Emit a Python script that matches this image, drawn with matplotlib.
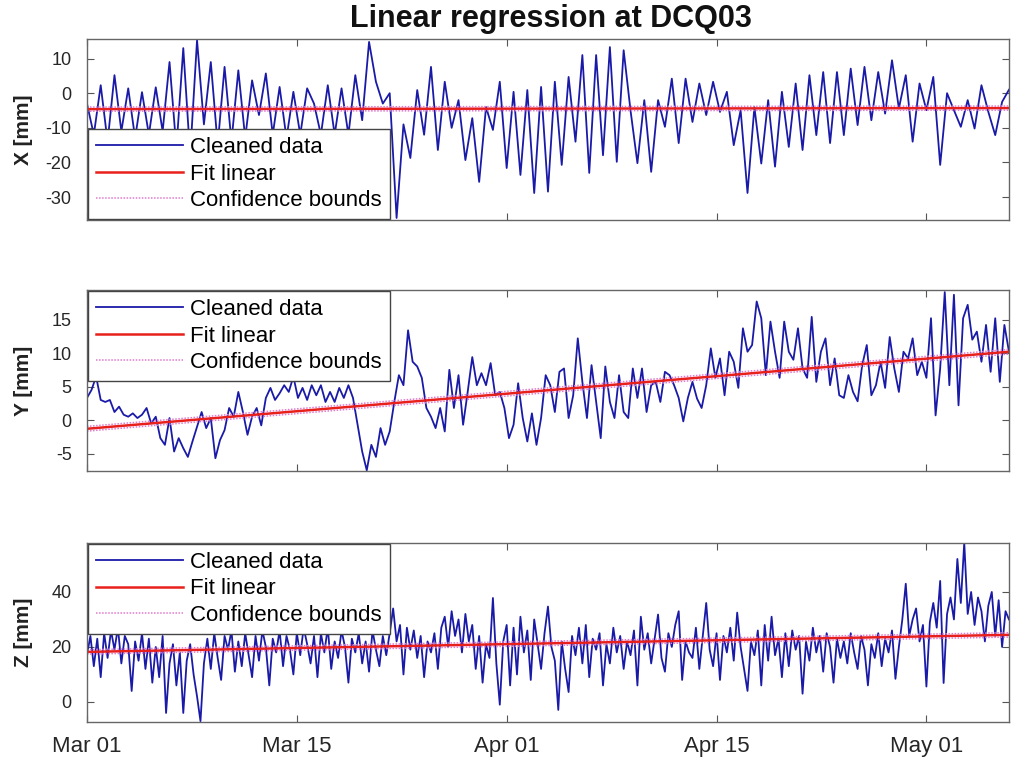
import numpy as np
import matplotlib.pyplot as plt

plt.rcParams['font.family'] = ['Liberation Sans', 'DejaVu Sans']
plt.rcParams['axes.unicode_minus'] = False

# X component [mm], two samples per day from Mar 01
x_vals = [
    -3, -12, 2.3, -14, 5.2, -11, 1.4, -13, 0.3, -12,
    1.7, -11, 9.0, -16, 13, -18, 15.3, -9, 9, -15,
    7.6, -14, 6.6, -13, 3.7, -6.3, 5.7, -12, 1.8, -13,
    0.4, -12, 1.4, -3, -12, 2.3, -12, 1.4, -12, 5.2,
    -7.8, 14.8, 3.3, -3, 0, -36, -9, -18.7, 0.9, -12,
    7.6, -16.4, 3.3, -10, -2, -19.3, -7.2, -25.6, -4, -10.6,
    3.3, -21.6, 0.4, -23.6, 0.9, -28.8, 1.8, -28.4, 3.3, -20.7,
    4.7, -14, 11, -23, 11, -17.9, 13.3, -19.8, 12.4, -5,
    -20.2, -2, -22.7, -2, -9.7, 4.2, -14.4, 4.2, -8.3, 2.8,
    -6.3, 3.3, -5.4, 0.4, -15, -4.9, -28.8, -4, -20.3, -2,
    -21.2, 0.4, -15.5, 2.8, -16.4, 5.2, -12.1, 6.1, -14.4, 6.1,
    -12.1, 7.1, -9.2, 7.6, -7.8, 6.1, -5.9, 9.5, -4.4, 5.2,
    -14, 2.8, -4.9, 4.7, -20.7, 0, -4.9, -9.7, -2, -10.2,
    2.3, -5.4, -12.1, -2.5, 1,
]

# Y component [mm], three samples per day
y_vals = [
    3.3, 4.5, 6.5, 3.0, 2.7, 3.0, 1.2, 2.0, 0.8, 0.5, 1.0, 0.3,
    0.8, 1.8, -0.5, 0.5, -2.7, -3.7, 0.3, -4.7, -2.7, -4.2, -5.5, -3.2,
    -1.0, 1.2, -1.2, 0.3, -5.7, -3.0, -1.5, 1.8, 0.5, 4.2, 1.2, -2.2,
    0.5, 1.8, -0.8, 3.3, 4.8, 3.0, 4.0, 5.2, 4.2, 6.5, 3.3, 4.8,
    3.0, 5.2, 3.7, 5.2, 2.7, 4.2, 2.7, 4.8, 3.3, 5.2, 3.3, -0.7,
    -4.7, -7.5, -3.7, -5.5, -1.2, -3.7,
    -1.7, 2.7, 6.7, 5.2, 13.4, 8.7, 8.0, 6.3, 1.8, 0.5,
    -1.2, 1.8, -1.7, 7.5, 1.8, 6.7, -0.7, 4.2, 9.4, 5.2,
    7.0, 5.2, 8.5, 3.7, 4.2, 1.8, -2.7, -0.7, 5.5, 0.3,
    -3.2, 1.0, -3.7, 0.3, 6.7, 5.2, 1.2, 7.2, 7.7, 0.3,
    3.7, 12.2, 5.7, 0.3, 8.2, 2.7, -2.7, 8.0, 2.7, 0.3,
    6.7, 1.2, 0.3, 7.7, 3.3, 7.7, 1.2, 5.2, 5.7, 2.7,
    7.2, 6.7, 5.2, 3.3, -0.2, 3.3,
    5.7, 3.2, 1.8, 5.2, 10.7, 6.3, 9.2, 3.7, 10.2, 8.7,
    4.8, 13.7, 10.2, 11.2, 17.7, 15.2, 6.7, 14.7, 10.2, 6.3,
    14.7, 10.2, 9.0, 13.7, 7.7, 6.3, 15.4, 5.7, 10.2, 12.2,
    5.2, 9.2, 3.7, 3.3, 6.7, 4.2, 2.8, 8.2, 11.2, 3.7,
    5.2, 8.7, 4.8, 12.4, 7.7, 4.2, 10.2, 9.2, 12.2, 6.7,
    8.7, 6.3, 15.2, 0.7, 7.7, 19.1, 5.2, 18.7, 2.2, 15.2,
    17.2, 12.0, 13.2, 8.7, 14.2, 7.2, 15.2, 5.7, 14.2, 10.2,
]

# Z component [mm], four samples per day
z_vals = [
    17, 24, 13, 23, 9, 25, 16, 26, 19, 27, 14, 24,
    21, 4, 22, 15, 25, 12, 23, 7, 20, 9, 24, -4,
    14, 21, 6, 18, -4, 15, 21, 10, 2, -7, 14, 23,
    12, 25, 16, 8, 24, 19, 26, 11, 22, 13, 25, 17,
    9, 24, 15, 26, 20, 6, 23, 18, 26, 13, 24, 19,
    10, 25, 17, 27, 21, 14, 24, 9, 25, 18, 27, 12,
    22, 16, 26, 20, 7, 23, 18, 25, 14, 22, 11, 26,
    19, 13, 24, 17, 25, 34, 22, 28, 10, 27, 19, 26,
    16, 24, 9, 22, 18, 25, 12, 27, 31, 20, 33, 24,
    30, 18, 32, 22, 28, 12, 24, 7, 21, 16, 37.8, 14,
    -1, 22, 28, 6, 27, 10, 31, 18, 26, 8, 30, 21,
    12, 25, 34.7, 20, 15, -2.9, 22, 12, 3.6, 24, 17, 27,
    14, 28, 9, 23, 19, 25, 6, 21, 14, 27, 18, 24,
    12, 22, 17, 26, 6, 31, 19, 25, 14, 23, 31.8, 16,
    11, 25, 20, 28, 33, 8, 22, 18, 16, 27, 12, 24,
    36, 19, 13, 25, 8, 24, 18, 27, 15, 32.5, 20, 12,
    4, 22, 17, 26, 6, 28, 15, 31, 17, 23, 9, 25,
    13, 26, 19, 24, 3, 22, 15, 27, 18, 24, 11, 25,
    20, 7, 23, 16, 22, 14, 25, 18, 12, 24, 19, 6,
    21, 16, 25, 13, 23, 18, 26, 8.4, 20, 30, 43, 24,
    30, 34, 22, 28, 5.6, 29, 36, 27, 44, 6.9, 32, 38,
    30, 52, 36, 58, 32, 40, 28, 38, 33, 22, 35, 40,
    24, 37, 20, 33, 30,
]

# linear fit: value at Mar 01 [mm], slope [mm/day], half-width of the bounds [mm]
x_fit = [-4.6, 0.0045, 0.6]
y_fit = [-1.3, 0.1716, 0.35]
z_fit = [18.2, 0.0925, 0.8]

tick_labels = ['Mar 01', 'Mar 15', 'Apr 01', 'Apr 15', 'May 01']

panels = [
    ('X [mm]', x_vals, 2, x_fit, (-36.6, 15.6), [-30, -20, -10, 0, 10], 'lower left'),
    ('Y [mm]', y_vals, 3, y_fit, (-7.6, 19.4), [-5, 0, 5, 10, 15], 'upper left'),
    ('Z [mm]', z_vals, 4, z_fit, (-7.3, 57.8), [0, 20, 40], 'upper left'),
]
boxes = [[0.086, 0.7105, 0.912, 0.238],
         [0.086, 0.3803, 0.912, 0.238],
         [0.086, 0.0500, 0.912, 0.2355]]

fig = plt.figure(figsize=(10.11, 7.6), dpi=100)
fig.text(0.545, 1 - 19 / 760, 'Linear regression at DCQ03', ha='center', va='center',
         fontsize=22, fontweight='bold', color='#111111')

for (lab, vals, per_day, fit, ylim, yt, loc), box in zip(panels, boxes):
    ax = fig.add_axes(box)
    v = np.array(vals, dtype=float)
    t = np.arange(len(v)) / per_day
    line_fit = fit[0] + fit[1] * t
    ax.plot(t, v, color='#1a1aa8', lw=1.3, label='Cleaned data')
    ax.plot(t, line_fit, color='#e8201c', lw=1.8, label='Fit linear')
    ax.plot(t, line_fit + fit[2], color='#e07ad0', lw=1.1, ls=(0, (1, 1)),
            label='Confidence bounds')
    ax.plot(t, line_fit - fit[2], color='#e07ad0', lw=1.1, ls=(0, (1, 1)))
    ax.set_xlim(0, 67)
    ax.set_ylim(*ylim)
    ax.set_yticks(yt)
    ax.set_xticks(np.linspace(0, 61, 5))
    ax.set_xticklabels(tick_labels if box is boxes[-1] else [])
    ax.tick_params(direction='in', length=5, width=0.8, top=True, right=True,
                   colors='#555555', labelcolor='#262626')
    ax.tick_params(axis='x', labelsize=16, pad=10)
    ax.tick_params(axis='y', labelsize=13, pad=11)
    for s in ax.spines.values():
        s.set_color('#666666')
        s.set_linewidth(1.0)
    ax.set_ylabel(lab, fontsize=15, fontweight='bold', color='#222222')
    ax.yaxis.set_label_coords(-0.058, 0.5)
    leg = ax.legend(loc=loc, fontsize=16, handlelength=3.9, handletextpad=0.35,
                    borderpad=0.35, labelspacing=0.25, borderaxespad=0.05,
                    fancybox=False, framealpha=1, edgecolor='#444444')
    leg.get_frame().set_linewidth(1.0)

fig.savefig('out.png', dpi=100)
